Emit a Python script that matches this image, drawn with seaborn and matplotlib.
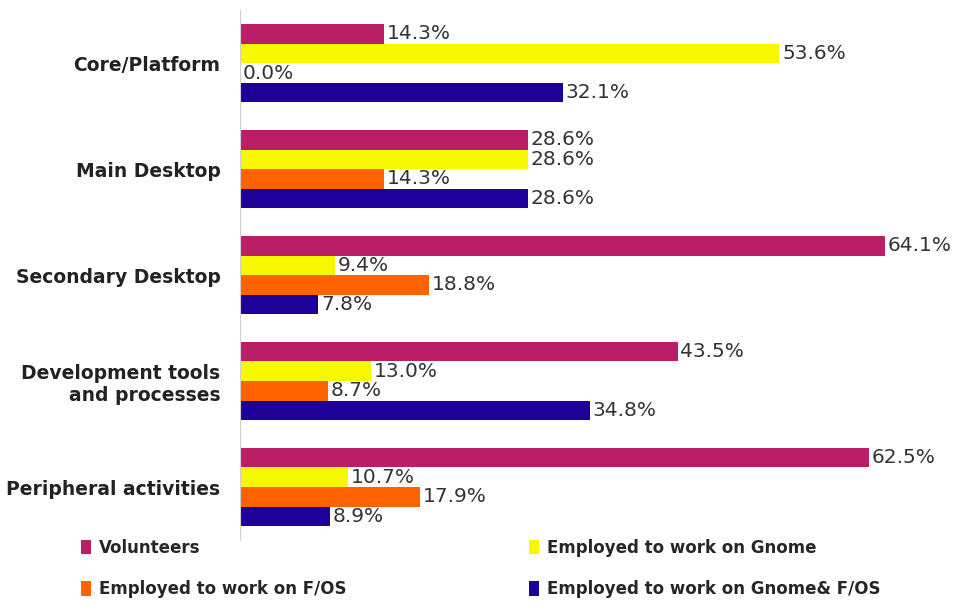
import pandas as pd
import numpy as np
import seaborn as sns
import matplotlib.pyplot as plt
from matplotlib.patches import Patch

# data (percent)
categories = ["Core/Platform", "Main Desktop", "Secondary Desktop",
              "Development tools\nand processes", "Peripheral activities"]
series = ["Volunteers", "Employed to work on Gnome",
          "Employed to work on F/OS", "Employed to work on Gnome& F/OS"]
volunteers = [14.3, 28.6, 64.1, 43.5, 62.5]
gnome = [53.6, 28.6, 9.4, 13.0, 10.7]
fos = [0.0, 14.3, 18.8, 8.7, 17.9]
gnome_fos = [32.1, 28.6, 7.8, 34.8, 8.9]

colors = ["#BA1F66", "#F7F700", "#FF6300", "#1C0098"]

rows = []
for name, vals in zip(series, [volunteers, gnome, fos, gnome_fos]):
    for cat, v in zip(categories, vals):
        rows.append({"category": cat, "series": name, "value": v})
df = pd.DataFrame(rows)

sns.set_style("white")
plt.rcParams['font.family'] = ['DejaVu Sans']

fig = plt.figure(figsize=(9.55, 6.02), dpi=100)
ax = fig.add_axes([0.2513, 0.103, 0.7375, 0.88])

sns.barplot(data=df, y="category", x="value", hue="series", orient="h",
            palette=colors, order=categories, hue_order=series,
            width=0.74, saturation=1, legend=False, linewidth=0, ax=ax)

for cont in ax.containers:
    ax.bar_label(cont, fmt="%.1f%%", padding=2, fontsize=14.5, color="#333333")

ax.set_xlim(0, 70)
ax.set_ylim(4.5, -0.5)
ax.set_xlabel("")
ax.set_ylabel("")
ax.set_xticks([])
ax.set_yticks(np.arange(len(categories)))
ax.set_yticklabels(categories, fontsize=13.5, fontweight="bold", color="#222222")
ax.tick_params(axis="y", length=0, pad=14)
ax.set_yticks(np.arange(-0.5, len(categories), 1), minor=True)
ax.tick_params(axis="y", which="minor", length=4, color="#cccccc")
for s in ["top", "right", "bottom"]:
    ax.spines[s].set_visible(False)
ax.spines["left"].set_color("#d0d0d0")

handles = [Patch(facecolor=c, edgecolor="none") for c in colors]
order = [0, 2, 1, 3]
fig.legend([handles[i] for i in order], [series[i] for i in order],
           ncol=2, mode="expand", loc="upper left",
           bbox_to_anchor=(0.076, 0.0, 0.855, 0.119),
           frameon=False, handlelength=0.6, handleheight=1.0,
           handletextpad=0.5, borderpad=0, labelspacing=1.4,
           prop={"weight": "bold", "size": 12})

fig.savefig("out.png", dpi=100)
